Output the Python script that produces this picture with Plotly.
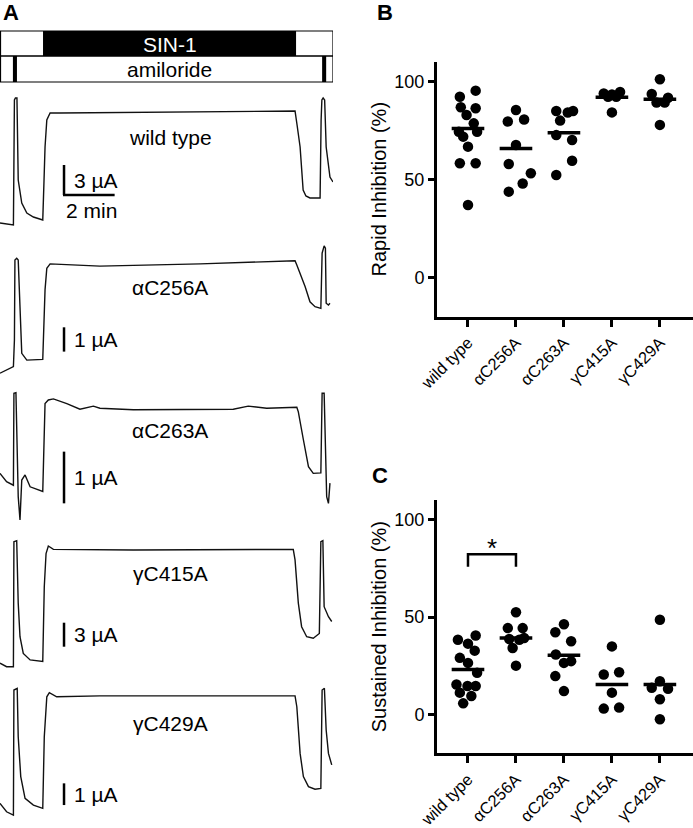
import plotly.graph_objects as go

W, H = 693, 828
FONT = "Liberation Sans, Arial, sans-serif"

# ---------------- Panel A: current recordings (time in min, current in uA; 0 = amiloride level)
trace_names = ["wild type", "\u03b1C256A", "\u03b1C263A", "\u03b3C415A", "\u03b3C429A"]

wt_t = [0, 0.40, 0.53, 0.57, 0.61, 0.67, 0.72, 0.86, 1.06, 1.32, 1.69, 1.74, 1.78, 1.85, 1.98, 2.37, 7.91,
        11.66, 11.74, 11.86, 11.98, 12.09, 12.25, 12.65, 12.69, 12.72, 12.77, 12.83, 12.89, 13.04, 13.16]
wt_i = [-12.5, -12.7, -12.7, -0.2, 0, 0, -8.2, -10.5, -11.5, -11.9, -12.2, -8.2, -4.9, -2.2, -1.5, -1.5, -1.4,
        -1.3, -2.7, -4.9, -9.2, -9.8, -10.0, -10.0, -2.2, -0.2, 0, -0.2, -4.9, -7.9, -8.4]

a256_t = [0, 0.26, 0.53, 0.57, 0.59, 0.66, 0.72, 0.79, 0.86, 1.06, 1.69, 1.78, 1.85, 1.98, 3.95, 7.91, 11.66,
          11.73, 11.86, 12.06, 12.25, 12.45, 12.68, 12.73, 12.81, 12.86, 12.89, 12.98, 13.04]
a256_i = [-4.73, -4.60, -4.46, -3.36, -0.07, 0, -0.07, -1.99, -3.91, -4.19, -4.16, -1.30, -0.41, -0.23, -0.32,
          -0.23, -0.10, -0.28, -0.62, -1.17, -1.79, -1.99, -2.06, 0.21, 0.51, 0.42, -1.85, -1.92, -1.85]

a263_t = [0, 0.26, 0.53, 0.55, 0.63, 0.72, 0.79, 0.86, 0.99, 1.19, 1.69, 1.78, 1.91, 2.11, 2.64, 3.16, 3.69,
          3.95, 5.27, 9.22, 9.81, 10.54, 11.73, 11.79, 11.99, 12.19, 12.38, 12.68, 12.73, 12.81, 12.91, 12.98, 13.04]
a263_i = [-1.56, -1.72, -1.79, -0.01, 0, -2.01, -2.46, -1.69, -1.59, -1.82, -1.91, -0.21, -0.14, -0.12, -0.21,
          -0.32, -0.26, -0.30, -0.33, -0.32, -0.26, -0.30, -0.28, -0.37, -0.91, -1.43, -1.56, -1.55, -0.01,
          -0.01, -2.01, -2.14, -1.75]

g415_t = [0, 0.26, 0.53, 0.55, 0.66, 0.72, 0.79, 0.92, 1.19, 1.69, 1.75, 1.82, 1.91, 2.11, 5.27, 11.59, 11.66,
          11.79, 11.92, 12.12, 12.38, 12.62, 12.68, 12.76, 12.81, 12.98, 13.11]
g415_i = [-15.3, -15.75, -15.75, -0.13, 0, -7.8, -12.0, -14.1, -14.9, -15.1, -5.75, -1.6, -0.66, -1.08, -1.16,
          -1.08, -2.4, -7.8, -10.75, -12.0, -12.2, -11.6, -0.13, 0, -8.25, -9.5, -10.1]

g429_t = [0, 0.26, 0.53, 0.55, 0.68, 0.72, 0.82, 0.99, 1.32, 1.69, 1.75, 1.85, 1.95, 2.24, 3.95, 11.66, 11.73,
          11.86, 11.99, 12.19, 12.45, 12.68, 12.73, 12.82, 12.89, 12.98, 13.11]
g429_i = [-5.30, -5.69, -5.84, -0.08, 0, -2.23, -4.07, -5.07, -5.38, -5.53, -2.23, -0.39, -0.20, -0.39, -0.35,
          -0.35, -0.85, -3.0, -4.07, -4.53, -4.65, -4.61, -0.08, 0, -1.92, -3.0, -3.53]

scale_uA = [3, 1, 1, 3, 1]                 # vertical scale bar size per trace
scale_bottom_uA = [-9.7, -3.84, -2.14, -13.25, -5.38]
time_bar_min = 2
sin1_on, sin1_off = 1.70, 11.70
amil_pulses = [(0.51, 0.67), (12.73, 12.89)]
T_END = 13.16

# ---------------- Panels B/C: inhibition (%)
groups = ["wild type", "\u03b1C256A", "\u03b1C263A", "\u03b3C415A", "\u03b3C429A"]

rapid_wt = [92.3, 95.4, 86.9, 86.4, 83.0, 78.7, 74.4, 74.4, 71.9, 66.8, 58.3, 58.3, 37.0]
rapid_a256 = [85.5, 79.6, 80.7, 67.6, 57.9, 53.2, 48.0, 43.8]
rapid_a263 = [85.0, 84.2, 85.0, 80.1, 72.7, 70.2, 59.6, 52.3]
rapid_g415 = [94.0, 93.5, 94.7, 92.3, 92.3, 84.3]
rapid_g429 = [101.2, 93.7, 91.8, 89.3, 89.3, 77.9]
rapid_mean = [76.1, 65.9, 73.9, 92.0, 91.0]

sust_wt = [38.3, 40.5, 36.3, 29.0, 32.7, 26.4, 21.3, 15.3, 14.5, 14.5, 11.1, 9.4, 5.6]
sust_a256 = [52.5, 44.3, 44.3, 38.7, 38.3, 39.2, 34.1, 25.0]
sust_a263 = [46.3, 42.2, 37.5, 30.7, 27.3, 26.4, 19.6, 11.9]
sust_g415 = [34.9, 20.4, 21.6, 11.1, 2.9, 3.4]
sust_g429 = [48.6, 17.0, 13.6, 13.1, 7.7, -2.6]
sust_mean = [23.0, 39.2, 30.3, 15.3, 15.3]

# horizontal scatter of dots within a column (category units)
rapid_wt_dx = [-0.17, 0.16, -0.15, 0.16, -0.03, 0.12, -0.19, 0.19, -0.10, 0.0, -0.17, 0.16, 0.0]
rapid_a256_dx = [0.0, -0.17, 0.17, 0.0, -0.15, 0.31, 0.14, -0.15]
rapid_a263_dx = [-0.16, 0.08, 0.19, -0.08, -0.16, 0.17, 0.17, -0.16]
rapid_g415_dx = [-0.17, 0.0, 0.17, -0.08, 0.09, 0.0]
rapid_g429_dx = [0.0, -0.17, 0.17, -0.07, 0.10, 0.0]
sust_wt_dx = [-0.21, 0.16, 0.0, -0.17, 0.14, 0.0, 0.19, -0.24, -0.01, 0.16, -0.17, 0.07, -0.10]
sust_a256_dx = [0.0, -0.17, 0.14, -0.14, 0.07, 0.17, -0.07, 0.0]
sust_a263_dx = [0.0, -0.18, 0.15, -0.17, 0.15, 0.0, -0.18, 0.0]
sust_g415_dx = [0.0, -0.17, 0.15, 0.0, -0.17, 0.15]
sust_g429_dx = [0.0, 0.0, -0.17, 0.17, 0.0, 0.0]

sig_pair = (0, 1)
sig_level = 82.3

# ---------------------------------------------------------------------------
def px(x):
    return x / W


def py(y):
    return 1 - y / H


def note(**kw):
    d = dict(showarrow=False, xanchor="center", yanchor="middle")
    d.update(kw)
    return d


fig = go.Figure()
layout = dict(width=W, height=H, margin=dict(l=0, r=0, t=0, b=0, autoexpand=False), paper_bgcolor="white",
              plot_bgcolor="rgba(0,0,0,0)", showlegend=False, font=dict(family=FONT, color="black"))
shapes, annos = [], []

traces_t = [wt_t, a256_t, a263_t, g415_t, g429_t]
traces_i = [wt_i, a256_i, a263_i, g415_i, g429_i]
# pixel geometry of each trace strip: (pixel of 0 uA, px per uA, strip top, strip bottom)
geom = [(98, 10.0, 88, 238), (258.3, 24.3, 238, 384), (392.7, 51.7, 384, 530),
        (540.7, 8.0, 530, 678), (688.3, 21.7, 678, 828)]
label_y = [138, 287, 430, 573, 723]

for k in range(5):
    n = k + 1
    xs = "x" if n == 1 else f"x{n}"
    ys = "y" if n == 1 else f"y{n}"
    xa = "xaxis" if n == 1 else f"xaxis{n}"
    ya = "yaxis" if n == 1 else f"yaxis{n}"
    y0, ppu, top, bot = geom[k]
    layout[xa] = dict(domain=[0, px(333)], range=[0, T_END], visible=False, anchor=ys, automargin=False)
    layout[ya] = dict(domain=[py(bot), py(top)], range=[(y0 - bot) / ppu, (y0 - top) / ppu],
                      visible=False, anchor=xs, automargin=False)
    fig.add_trace(go.Scatter(x=traces_t[k], y=traces_i[k], xaxis=xs, yaxis=ys, mode="lines",
                             line=dict(color="#111111", width=1.4), hoverinfo="skip", cliponaxis=False))
    # scale bar
    tb = 2.53
    sb = scale_bottom_uA[k]
    shapes.append(dict(type="line", xref=xs, yref=ys, x0=tb, x1=tb, y0=sb, y1=sb + scale_uA[k],
                       line=dict(color="black", width=2.5)))
    annos.append(note(xref=xs, yref=ys, x=tb + 0.3, y=sb + scale_uA[k] / 2, text=f"{scale_uA[k]} \u00b5A",
                      xanchor="left", font=dict(size=21)))
    if k == 0:
        shapes.append(dict(type="line", xref=xs, yref=ys, x0=tb - 0.04, x1=tb + time_bar_min, y0=sb, y1=sb,
                           line=dict(color="black", width=2.5)))
        annos.append(note(xref=xs, yref=ys, x=tb, y=sb - 1.5, text=f"{time_bar_min} min",
                          xanchor="left", font=dict(size=21)))
    annos.append(note(xref="paper", yref="paper", x=px(170), y=py(label_y[k]), text=trace_names[k],
                      font=dict(size=21)))

# treatment bars
shapes.append(dict(type="rect", xref="x", yref="paper", x0=sin1_on, x1=sin1_off, y0=py(56), y1=py(31),
                   fillcolor="black", line=dict(width=0)))
for a0, a1 in amil_pulses:
    shapes.append(dict(type="rect", xref="x", yref="paper", x0=a0, x1=a1, y0=py(82), y1=py(56),
                       fillcolor="black", line=dict(width=0)))
shapes.append(dict(type="rect", xref="x", yref="paper", x0=0.02, x1=T_END, y0=py(56), y1=py(31),
                   line=dict(color="black", width=1.2)))
shapes.append(dict(type="rect", xref="x", yref="paper", x0=0.02, x1=T_END, y0=py(82), y1=py(56),
                   line=dict(color="black", width=1.2)))
annos.append(note(xref="x", yref="paper", x=(sin1_on + sin1_off) / 2, y=py(44), text="SIN-1",
                  font=dict(size=21, color="white")))
annos.append(note(xref="x", yref="paper", x=(sin1_on + sin1_off) / 2, y=py(69.5), text="amiloride",
                  font=dict(size=21)))

# panel letters
for letter, (lx, ly) in {"A": (11, 13), "B": (385, 13), "C": (380, 475)}.items():
    annos.append(note(xref="paper", yref="paper", x=px(lx), y=py(ly), text=f"<b>{letter}</b>",
                      font=dict(size=22)))

# ---------------- dot plots
panels = [
    (6, [rapid_wt, rapid_a256, rapid_a263, rapid_g415, rapid_g429],
     [rapid_wt_dx, rapid_a256_dx, rapid_a263_dx, rapid_g415_dx, rapid_g429_dx], rapid_mean,
     "Rapid Inhibition (%)", 61.7, 316.7),
    (7, [sust_wt, sust_a256, sust_a263, sust_g415, sust_g429],
     [sust_wt_dx, sust_a256_dx, sust_a263_dx, sust_g415_dx, sust_g429_dx], sust_mean,
     "Sustained Inhibition (%)", 500, 753.3),
]
for n, vals, dxs, means, title, top, bot in panels:
    xs, ys = f"x{n}", f"y{n}"
    layout[f"xaxis{n}"] = dict(domain=[px(437), 1], range=[-0.646, 4.69], anchor=ys, showline=True,
                               linewidth=3, linecolor="black", ticks="outside", ticklen=7, tickwidth=3,
                               tickcolor="black", tickvals=list(range(5)), ticktext=groups, tickangle=-45,
                               tickfont=dict(size=16.5), showgrid=False, zeroline=False, automargin=False)
    layout[f"yaxis{n}"] = dict(domain=[py(bot), py(top)], range=[-20.1, 110.2], anchor=xs, showline=True,
                               linewidth=3, linecolor="black", ticks="outside", ticklen=6, tickwidth=3,
                               tickcolor="black", tickvals=[0, 50, 100], tickfont=dict(size=18),
                               title=dict(text=title, font=dict(size=20), standoff=3),
                               showgrid=False, zeroline=False, automargin=False)
    for j in range(5):
        fig.add_trace(go.Scatter(x=[j + d for d in dxs[j]], y=vals[j], xaxis=xs, yaxis=ys, mode="markers",
                                 marker=dict(color="black", size=10.5), hoverinfo="skip", cliponaxis=False))
        shapes.append(dict(type="line", xref=xs, yref=ys, x0=j - 0.34, x1=j + 0.34, y0=means[j], y1=means[j],
                           line=dict(color="black", width=3.5)))

# significance bracket in C
a, b = sig_pair
shapes.append(dict(type="path", xref="x7", yref="y7",
                   path=f"M {a},{sig_level - 6.5} L {a},{sig_level} L {b},{sig_level} L {b},{sig_level - 6.5}",
                   line=dict(color="black", width=2.5)))
annos.append(note(xref="x7", yref="y7", x=(a + b) / 2, y=sig_level - 5.5, text="*", yanchor="bottom",
                  font=dict(size=26)))

layout["shapes"] = shapes
layout["annotations"] = annos
fig.update_layout(**layout)
fig.write_html("out.html", config={"displayModeBar": False},
               post_script="document.body.style.margin='0';document.body.style.overflow='hidden';")
